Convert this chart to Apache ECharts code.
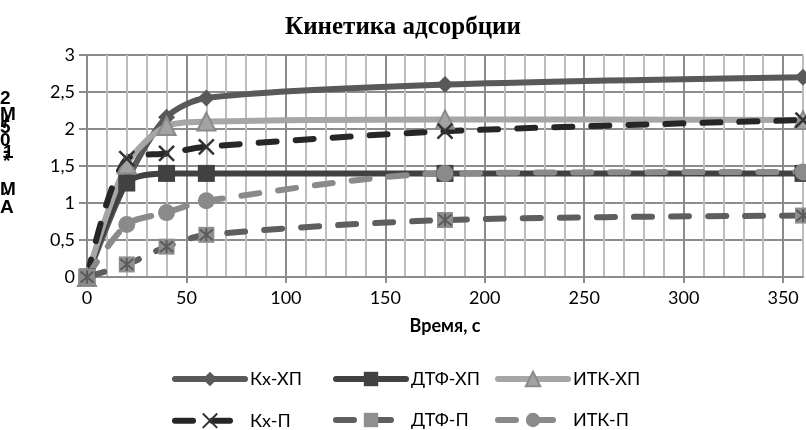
<!DOCTYPE html>
<html>
<head>
<meta charset="utf-8">
<script src="https://cdn.jsdelivr.net/npm/echarts@6/dist/echarts.min.js"></script>
<style>
  html, body { margin: 0; padding: 0; background: #fff; }
  #chart { width: 806px; height: 430px; }
</style>
</head>
<body>
<div id="chart"></div>
<script>
// Time points, s
const times = [0, 20, 40, 60, 180, 360];

// Adsorption values for each sample
const kxXP   = [0, 1.3, 2.16, 2.42, 2.6, 2.7];
const dtfXP  = [0, 1.27, 1.4, 1.4, 1.4, 1.4];
const itkXP  = [0, 1.52, 2.04, 2.1, 2.13, 2.12];
const kxP    = [0, 1.6, 1.67, 1.76, 1.97, 2.12];
const dtfP   = [0, 0.17, 0.41, 0.57, 0.77, 0.83];
const itkP   = [0, 0.71, 0.87, 1.03, 1.4, 1.42];

const seriesNames = ['Кх-ХП', 'ДТФ-ХП', 'ИТК-ХП', 'Кх-П', 'ДТФ-П', 'ИТК-П'];

// Axis ticks
const xTickValues = [0, 50, 100, 150, 200, 250, 300, 350];
const yTickValues = [0, 0.5, 1, 1.5, 2, 2.5, 3];

const pairs = (ys) => times.map((t, i) => [t, ys[i]]);

const FONT = 'Lato';
const X_PATH = 'path://M0,0L10,10M10,0L0,10';
const STAR_PATH = 'path://M0,0L10,10M10,0L0,10M5,-1L5,11';

const dash = [18, 19];
const LW = 6;

function lineSeries(name, data, o) {
  return Object.assign({
    name: name,
    type: 'line',
    xAxisIndex: 1,
    data: pairs(data),
    smooth: 0.28,
    symbolSize: 15,
    showAllSymbol: true,
    clip: false,
    lineStyle: { width: LW, color: o.color, type: o.type || 'solid', cap: 'round' },
    itemStyle: { color: o.fill || o.color, borderColor: o.border || o.color, borderWidth: o.borderWidth || 0 },
    emphasis: { disabled: true },
    z: 2
  }, o.extra || {});
}

const series = [
  lineSeries('Кх-ХП', kxXP, { color: '#595959', extra: { symbol: 'diamond', symbolSize: 17 } }),
  lineSeries('ДТФ-ХП', dtfXP, { color: '#414141', extra: { symbol: 'rect', symbolSize: 17 } }),
  lineSeries('ИТК-ХП', itkXP, { color: '#a6a6a6', fill: '#a3a3a3', border: '#8a8a8a', borderWidth: 2, extra: { symbol: 'triangle', symbolSize: 18 } }),
  lineSeries('Кх-П', kxP, { color: '#262626', type: dash, fill: 'none', border: '#333333', borderWidth: 2.5, extra: { symbol: X_PATH, symbolSize: 15 } }),
  lineSeries('ДТФ-П', dtfP, { color: '#5e5e5e', type: dash, fill: '#8f8f8f', extra: { symbol: 'rect', symbolSize: 16 } }),
  lineSeries('ИТК-П', itkP, { color: '#8a8a8a', type: dash, extra: { symbol: 'circle', symbolSize: 17 } }),
  // asterisk drawn over the square markers of ДТФ-П
  {
    name: 'ДТФ-П-марка',
    type: 'line',
    xAxisIndex: 1,
    data: pairs(dtfP),
    symbol: STAR_PATH,
    symbolSize: 13,
    lineStyle: { width: 0, opacity: 0 },
    itemStyle: { color: 'none', borderColor: '#5a5a5a', borderWidth: 2 },
    emphasis: { disabled: true },
    clip: false,
    z: 3
  }
];

// one legend block per item so the two rows line up in columns
const legendCols = [167, 328, 490];
const legends = seriesNames.map((name, i) => ({
  data: [name],
  left: legendCols[i % 3],
  top: i < 3 ? 365 : 406,
  itemWidth: 70,
  itemHeight: 18,
  itemGap: 0,
  selectedMode: false,
  lineStyle: { width: LW },
  textStyle: { fontFamily: FONT, fontSize: 18, color: '#000' }
}));

// vertical (stacked) y-axis caption, one glyph per block
const yCaption = [
  ['2', 99], ['М', 115], ['/', 123], ['5', 128], ['0', 141], ['1', 153], ['-', 152], ['*', 162],
  ['М', 190], ['\u00b4', 201], ['А', 208]
];

const captionTitles = yCaption.map(([ch, y]) => ({
  text: ch,
  left: ch === '\u00b4' ? 2 : (ch === '-' || ch === '*' || ch === '/' || ch === '1' ? 3 : 0),
  top: y - 11,
  padding: 0,
  textStyle: { fontFamily: 'Liberation Sans', fontWeight: 'bold', fontSize: 19, color: '#000', lineHeight: 22 }
}));

const option = {
  backgroundColor: '#ffffff',
  animation: false,
  title: [{
    text: 'Кинетика адсорбции',
    left: 'center',
    top: 10,
    textStyle: { fontFamily: 'Liberation Serif', fontWeight: 'bold', fontSize: 25, color: '#000' }
  }].concat(captionTitles),
  legend: legends,
  grid: { left: 87, right: 3, top: 55, bottom: 153, containLabel: false },
  xAxis: [
    {
      // fine 10-second grid
      type: 'value',
      position: 'bottom',
      min: 0,
      max: 360,
      interval: 10,
      axisLine: { show: false },
      axisTick: { show: false },
      axisLabel: { show: false },
      splitLine: { show: true, lineStyle: { color: '#bdbdbd', width: 2 } }
    },
    {
      type: 'value',
      position: 'bottom',
      min: 0,
      max: 360,
      interval: 50,
      name: 'Время, с',
      nameLocation: 'middle',
      nameGap: 40,
      nameTextStyle: { fontFamily: FONT, fontWeight: 'bold', fontSize: 18, color: '#000' },
      axisLine: { show: true, lineStyle: { color: '#8c8c8c', width: 2 } },
      axisTick: { show: true, customValues: xTickValues, length: 6, lineStyle: { color: '#8c8c8c', width: 2 } },
      axisLabel: { customValues: xTickValues, fontFamily: FONT, fontSize: 18, color: '#000', margin: 12 },
      splitLine: { show: true, lineStyle: { color: '#8c8c8c', width: 2 } }
    }
  ],
  yAxis: {
    type: 'value',
    min: 0,
    max: 3,
    interval: 0.5,
    axisLine: { show: false },
    axisTick: { show: true, length: 8, lineStyle: { color: '#8c8c8c', width: 2 } },
    axisLabel: {
      customValues: yTickValues,
      fontFamily: FONT, fontSize: 18, color: '#000', margin: 12,
      formatter: (v) => String(v).replace('.', ',')
    },
    splitLine: { show: true, lineStyle: { color: '#8c8c8c', width: 2 } }
  },
  series: series
};

const chart = echarts.init(document.getElementById('chart'), null, { renderer: 'canvas' });
chart.setOption(option);
</script>
</body>
</html>
